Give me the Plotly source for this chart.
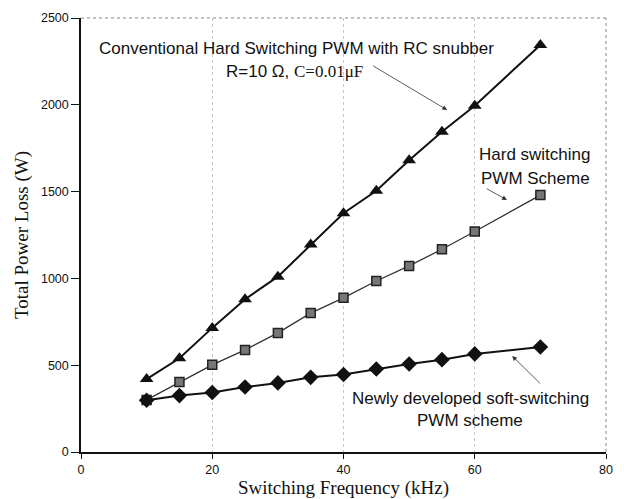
import plotly.graph_objects as go

freq_khz = [10, 15, 20, 25, 30, 35, 40, 45, 50, 55, 60, 70]
loss_rc_snubber = [420, 540, 715, 880, 1010, 1195, 1375, 1505, 1680, 1845, 1995, 2345]
loss_hard = [300, 403, 502, 588, 686, 800, 888, 985, 1072, 1168, 1270, 1480]
loss_soft = [298, 325, 343, 374, 398, 430, 446, 478, 507, 532, 565, 605]

x_ticks = [0, 20, 40, 60, 80]
y_ticks = [0, 500, 1000, 1500, 2000, 2500]

SANS = "Liberation Sans, Arial, sans-serif"
SERIF = "Liberation Serif, Times New Roman, serif"

fig = go.Figure()
fig.add_trace(go.Scatter(
    x=freq_khz, y=loss_rc_snubber, mode="lines+markers",
    line=dict(color="#111", width=2),
    marker=dict(symbol="triangle-up", size=12, color="#111"),
    showlegend=False))
fig.add_trace(go.Scatter(
    x=freq_khz, y=loss_hard, mode="lines+markers",
    line=dict(color="#333", width=1.3),
    marker=dict(symbol="square", size=9, color="#777",
                line=dict(color="#222", width=1.5)),
    showlegend=False))
fig.add_trace(go.Scatter(
    x=freq_khz, y=loss_soft, mode="lines+markers",
    line=dict(color="#111", width=2),
    marker=dict(symbol="diamond", size=12, color="#111"),
    showlegend=False))

tfont = dict(family=SANS, size=17, color="#111")
ann = [
    dict(x=32.9, y=2327, text="Conventional Hard Switching PWM with RC snubber",
         showarrow=False, font=tfont, xref="x", yref="y"),
    dict(x=32.6, y=2189,
         text="R=10 Ω, <span style=\"font-family:Liberation Serif\">C=0.01μF</span>",
         showarrow=False, font=tfont, xref="x", yref="y"),
    dict(x=69.2, y=1711, text="Hard switching", showarrow=False, font=tfont,
         xref="x", yref="y"),
    dict(x=69.2, y=1578, text="PWM Scheme", showarrow=False, font=tfont,
         xref="x", yref="y"),
    dict(x=59.3, y=311, text="Newly developed soft-switching", showarrow=False,
         font=tfont, xref="x", yref="y"),
    dict(x=59.3, y=179, text="PWM scheme", showarrow=False, font=tfont,
         xref="x", yref="y"),
    # arrows
    dict(x=55.8, y=1970, ax=44.3, ay=2229, xref="x", yref="y", axref="x", ayref="y",
         text="", showarrow=True, arrowhead=2, arrowsize=1.2, arrowwidth=0.8,
         arrowcolor="#333"),
    dict(x=64.9, y=1452, ax=61.6, ay=1521, xref="x", yref="y", axref="x", ayref="y",
         text="", showarrow=True, arrowhead=2, arrowsize=1.2, arrowwidth=0.8,
         arrowcolor="#333"),
    dict(x=65.7, y=553, ax=70.2, ay=386, xref="x", yref="y", axref="x", ayref="y",
         text="", showarrow=True, arrowhead=2, arrowsize=1.2, arrowwidth=0.8,
         arrowcolor="#333"),
]

# the page body has an 8px margin, so the figure is 8px smaller than the window
fig.update_layout(
    width=616, height=491,
    margin=dict(l=73, r=18, t=10, b=47),
    paper_bgcolor="white", plot_bgcolor="white",
    annotations=ann,
    shapes=[
        dict(type="line", xref="paper", yref="paper", x0=0, x1=1, y0=1, y1=1,
             line=dict(color="#888", width=1, dash="dot")),
        dict(type="line", xref="paper", yref="paper", x0=1, x1=1, y0=0, y1=1,
             line=dict(color="#888", width=1, dash="dot")),
    ],
)
fig.update_xaxes(
    range=[0, 80], tickvals=x_ticks, ticktext=[str(v) for v in x_ticks],
    showline=True, linecolor="#111", linewidth=1.5,
    ticks="outside", ticklen=5, tickcolor="#111",
    showgrid=True, gridcolor="#c8c8c8", gridwidth=1, griddash="dot",
    zeroline=False, automargin=False,
    tickfont=dict(family=SANS, size=12.5, color="#111"),
    title=dict(text="Switching Frequency (kHz)", standoff=5,
               font=dict(family=SERIF, size=19, color="#111")),
)
fig.update_yaxes(
    range=[0, 2500], tickvals=y_ticks, ticktext=[str(v) for v in y_ticks],
    showline=True, linecolor="#111", linewidth=1.5,
    ticks="outside", ticklen=8, tickcolor="#111",
    showgrid=False, zeroline=False, automargin=False,
    tickfont=dict(family=SANS, size=12.5, color="#111"),
    title=dict(text="Total Power Loss (W)", standoff=7,
               font=dict(family=SERIF, size=19, color="#111")),
)

fig.write_html("out.html")
